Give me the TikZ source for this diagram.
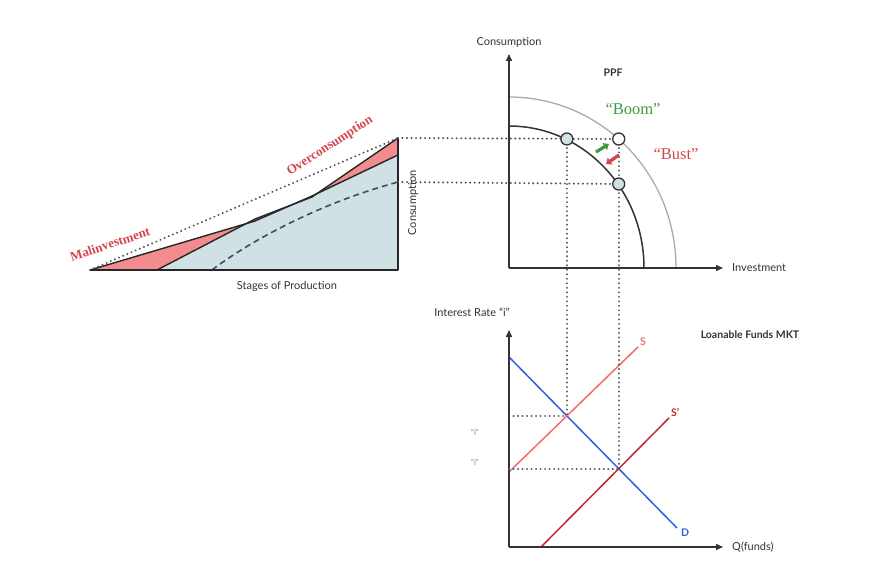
\documentclass[tikz,border=0pt]{standalone}
\usepackage{fontspec}
\setmainfont{Lato}
\newfontfamily\quotefont{Liberation Serif}
\usetikzlibrary{arrows.meta,positioning,calc,intersections}
\definecolor{MktDark}{HTML}{333333}
\definecolor{MktGrey}{HTML}{AAAAAA}
\definecolor{MktPink}{HTML}{F28C8E}
\definecolor{MktRed}{HTML}{D2464E}
\definecolor{MktFill}{HTML}{CFE1E5}
\definecolor{MktGreen}{HTML}{3C9C3C}
\definecolor{MktBlue}{HTML}{2F5FDC}
\definecolor{MktLightRed}{HTML}{F26C6C}
\definecolor{MktDarkRed}{HTML}{C0282E}
\definecolor{MktDash}{HTML}{3A515A}
\tikzset{
  axisline/.style={-{Triangle[length=7pt,width=6pt]},line width=1.5pt,draw=MktDark},
  edge/.style={line width=1.4pt,draw=black!85,line join=round},
  guide/.style={draw=MktDark!85,line width=2.2pt,dash pattern=on 0.01pt off 4.5pt,line cap=round},
  dashcurve/.style={draw=MktDash,line width=1.6pt,dash pattern=on 6pt off 4pt},
  axislabel/.style={font=\fontsize{11}{13}\selectfont,text=MktDark,inner sep=1pt},
  titlelabel/.style={font=\fontsize{10.5}{12}\selectfont\bfseries,text=MktDark,inner sep=1pt},
  redlabel/.style={font=\quotefont\fontsize{13}{15}\selectfont\bfseries,text=MktRed,inner sep=0pt},
  quotelabel/.style={font=\quotefont\fontsize{16.5}{19}\selectfont,inner sep=0pt},
  ppfpoint/.style={circle,draw=MktDark,line width=1.3pt,fill=MktFill,minimum size=12pt,inner sep=0pt},
  moveboom/.style={-{Triangle[length=5pt,width=8pt]},line width=3.3pt,draw=MktGreen},
  movebust/.style={-{Triangle[length=5pt,width=8pt]},line width=3.3pt,draw=MktRed},
  mktline/.style={line width=1.5pt}
}
\begin{document}
\begin{tikzpicture}[x=1pt,y=-1pt]
\useasboundingbox (0,0) rectangle (887,583);

% Hayekian triangle
\coordinate (tL) at (90,270);
\coordinate (tM) at (157,270);
\coordinate (tR) at (398,270);
\coordinate (tTop) at (398,138);
\coordinate (tLow) at (398,155);
\coordinate (tDash) at (398,182);
\coordinate (dStart) at (212,270);
\coordinate (kA1) at (255,221);
\coordinate (kB1) at (312,196);
\coordinate (kA2) at (255,219);
\coordinate (kB2) at (312,197);
\fill[MktPink] (tL) -- (kA1) -- (kB1) -- (tLow) -- (tR) -- cycle;
\fill[MktPink] (tM) -- (kA2) -- (kB2) -- (tTop) -- (tR) -- cycle;
\begin{scope}
  \clip (tL) -- (kA1) -- (kB1) -- (tLow) -- (tR) -- cycle;
  \fill[MktFill] (tM) -- (kA2) -- (kB2) -- (tTop) -- (tR) -- cycle;
\end{scope}
\draw[dashcurve] (dStart) .. controls (250,241) and (320,203) .. (tDash);
\draw[edge] (tL) -- (kA1) -- (kB1) -- (tLow);
\draw[edge] (tM) -- (kA2) -- (kB2) -- (tTop);
\draw[edge] (tL) -- (tR) -- (tTop);
\draw[guide] (tL) -- (tTop);
\node[redlabel,rotate=18] (mal) at (110,244) {Malinvestment};
\node[redlabel,rotate=33] (over) at (330,146) {Overconsumption};
\node[axislabel] (stages) at (287,286) {Stages of Production};
\node[axislabel,rotate=90] (cons) at (413,203) {Consumption};

% PPF
\coordinate (ppfO) at (509,268);
\coordinate (ppfY) at (509,54);
\coordinate (ppfX) at (723,268);
\draw[MktGrey,line width=1.3pt] (509,97) arc[start angle=-90,end angle=0,x radius=167,y radius=171];
\draw[MktDark,line width=1.5pt] (509,126) arc[start angle=-90,end angle=0,x radius=135,y radius=142];
\draw[axisline] (ppfO) -- (ppfY);
\draw[axisline] (ppfO) -- (ppfX);
\node[axislabel,above=5pt of ppfY] (cAxis) {Consumption};
\node[axislabel,right=8pt of ppfX] (iAxis) {Investment};
\node[titlelabel] (ppf) at (613,73) {PPF};
\node[quotelabel,text=MktGreen] (boom) at (633,109) {“Boom”};
\node[quotelabel,text=MktRed] (bust) at (676,154) {“Bust”};

% Loanable funds market
\coordinate (lfO) at (509,547);
\coordinate (lfY) at (509,330);
\coordinate (lfX) at (723,547);
\coordinate (dTop) at (509,357);
\coordinate (dEnd) at (677,528);
\coordinate (sLow) at (509,472);
\coordinate (sTop) at (638,347);
\coordinate (spLow) at (541,547);
\coordinate (spTop) at (669,418);
\draw[mktline,MktBlue,name path=D] (dTop) -- (dEnd);
\draw[mktline,MktLightRed,name path=S] (sLow) -- (sTop);
\draw[mktline,MktDarkRed,name path=Sp] (spLow) -- (spTop);
\path[name intersections={of=D and S,by=eqA}];
\path[name intersections={of=D and Sp,by=eqB}];
\draw[axisline] (lfO) -- (lfY);
\draw[axisline] (lfO) -- (lfX);
\node[axislabel] (rAxis) at (472,312) {Interest Rate “i”};
\node[axislabel,right=8pt of lfX] (qAxis) {Q(funds)};
\node[titlelabel] (lfm) at (750,335) {Loanable Funds MKT};
\node[titlelabel,text=MktLightRed,above right=0pt and 1pt of sTop] (sLab) {S};
\node[titlelabel,text=MktDarkRed,above right=0pt and 1pt of spTop] (spLab) {S'};
\node[titlelabel,text=MktBlue,below right=0pt and 3pt of dEnd] (dLab) {D};
\node[axislabel,text=MktDark!60,font=\fontsize{8}{9}\selectfont] (iHigh) at (475,432) {“i”};
\node[axislabel,text=MktDark!60,font=\fontsize{8}{9}\selectfont] (iLow) at (475,462) {“i”};

% guides between the panels
\coordinate (pA) at (eqA |- 0,139);
\coordinate (pBoom) at (eqB |- 0,139);
\coordinate (pBust) at (eqB |- 0,184);
\draw[guide] (tTop) -- (pBoom);
\draw[guide] (tDash) -- (pBust);
\draw[guide] (pA) -- (eqA);
\draw[guide] (pBoom) -- (eqB);
\draw[guide] (eqA -| lfO) -- (eqA);
\draw[guide] (eqB -| lfO) -- (eqB);
\node[ppfpoint] (cA) at (pA) {};
\node[ppfpoint,fill=white] (cBoom) at (pBoom) {};
\node[ppfpoint] (cBust) at (pBust) {};
\coordinate (gTail) at (596,152);
\coordinate (gHead) at (609,144);
\coordinate (rTail) at (619,155);
\coordinate (rHead) at (606,164);
\draw[moveboom] (gTail) -- (gHead);
\draw[movebust] (rTail) -- (rHead);
\end{tikzpicture}
\end{document}
